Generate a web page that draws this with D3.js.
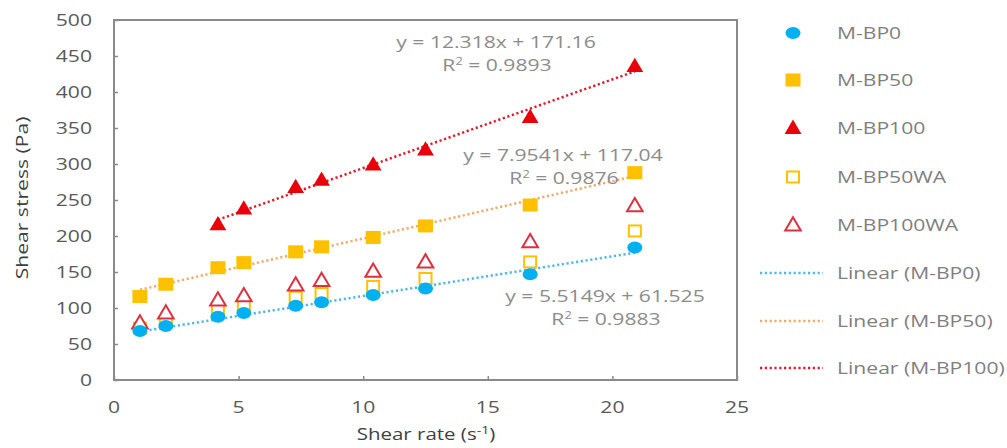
<!DOCTYPE html>
<html>
<head>
<meta charset="utf-8">
<script src="https://cdn.jsdelivr.net/npm/d3@7/dist/d3.min.js"></script>
<style>
  html, body { margin: 0; padding: 0; background: #fff; }
  svg { display: block; font-family: "Open Sans", "Noto Sans", sans-serif; }
</style>
</head>
<body>
<svg id="chart" width="1007" height="448"></svg>
<script>
// Shear rate (s^-1) at each measurement step
const shearRate = [1.04, 2.08, 4.17, 5.21, 7.29, 8.33, 10.4, 12.5, 16.7, 20.9];

// Shear stress (Pa) per mix
const mbp0     = [68, 75, 88, 93, 103, 108, 118, 127, 147, 184];
const mbp50    = [116, 133, 156, 163, 178, 185, 198, 214, 243, 288];
const mbp100   = [null, null, 216, 238, 268, 278, 299, 320, 365, 436];
const mbp50wa  = [72, 81, 97, 103, 115, 120, 130, 141, 164, 207];
const mbp100wa = [79, 93, 111, 117, 132, 138, 151, 164, 192, 242];

// Linear fits (slope, intercept, R²)
const fitNames = ["M-BP0", "M-BP50", "M-BP100"];
const fitSlope = [5.5149, 7.9541, 12.318];
const fitIntercept = [61.525, 117.04, 171.16];
const fitR2 = ["0.9883", "0.9876", "0.9893"];

const xTicks = [0, 5, 10, 15, 20, 25];
const yTicks = [0, 50, 100, 150, 200, 250, 300, 350, 400, 450, 500];

const svg = d3.select("#chart");
const plot = { left: 114, right: 737, top: 20, bottom: 380 };

const x = d3.scaleLinear().domain([0, 25]).range([plot.left, plot.right]);
const y = d3.scaleLinear().domain([0, 500]).range([plot.bottom, plot.top]);

const textGray = "#595959";
const labelGray = "#8c8c8c";
const WIDEN = 1.28;   // horizontal stretch applied to all text

// Text helper: places text at (px, py) with a wide horizontal aspect
function label(px, py, anchor, size, fill, rotate) {
  const rot = rotate ? ` rotate(${rotate})` : "";
  return svg.append("text")
    .attr("transform", `translate(${px},${py})${rot} scale(${WIDEN},1)`)
    .attr("dy", "0.35em")
    .attr("text-anchor", anchor)
    .attr("font-size", size)
    .attr("fill", fill);
}

// Plot area frame
svg.append("rect")
  .attr("x", plot.left).attr("y", plot.top)
  .attr("width", plot.right - plot.left).attr("height", plot.bottom - plot.top)
  .attr("fill", "none").attr("stroke", "#8a8a8a").attr("stroke-width", 2);

// Axes with short inward ticks
const yAxis = svg.append("g").attr("transform", `translate(${plot.left},0)`)
  .call(d3.axisRight(y).tickValues(yTicks).tickSize(4).tickFormat(""));
yAxis.select(".domain").remove();
yAxis.selectAll("line").attr("stroke", "#8a8a8a").attr("stroke-width", 1.5);

const xAxis = svg.append("g").attr("transform", `translate(0,${plot.bottom})`)
  .call(d3.axisTop(x).tickValues(xTicks).tickSize(4).tickFormat(""));
xAxis.select(".domain").remove();
xAxis.selectAll("line").attr("stroke", "#8a8a8a").attr("stroke-width", 1.5);

yTicks.forEach(d => label(92, y(d), "end", 16.5, textGray).text(d));
xTicks.forEach(d => label(x(d), 407, "middle", 16.5, textGray).text(d));

// Axis titles
label(22, 198, "middle", 16.5, "#404040", -90).text("Shear stress (Pa)");

const xt = label(426, 434, "middle", 16, "#404040");
xt.append("tspan").text("Shear rate (s");
xt.append("tspan").attr("font-size", 11).attr("dy", -6).text("-1");
xt.append("tspan").attr("dy", 6).text(")");

// Trendlines
const fitColors = ["#4fb8e6", "#f7a96a", "#e8182b"];
const fitSeries = [mbp0, mbp50, mbp100];
fitSeries.forEach((vals, i) => {
  const xs = shearRate.filter((r, j) => vals[j] != null);
  const x0 = d3.min(xs), x1 = d3.max(xs);
  svg.append("line")
    .attr("x1", x(x0)).attr("y1", y(fitSlope[i] * x0 + fitIntercept[i]))
    .attr("x2", x(x1)).attr("y2", y(fitSlope[i] * x1 + fitIntercept[i]))
    .attr("stroke", fitColors[i]).attr("stroke-width", 2.5)
    .attr("stroke-dasharray", "2.2,2.6");
});

// Marker shapes
const triPath = s => `M0,${-s * 0.6}L${s * 0.6},${s * 0.42}L${-s * 0.6},${s * 0.42}Z`;
function drawMarker(g, kind) {
  if (kind === "circle") {
    g.append("ellipse").attr("rx", 7.5).attr("ry", 6).attr("fill", "#00b0f0");
  } else if (kind === "square") {
    g.append("rect").attr("x", -7.5).attr("y", -6.5).attr("width", 15).attr("height", 13).attr("fill", "#ffc000");
  } else if (kind === "triangle") {
    g.append("path").attr("d", triPath(14)).attr("fill", "#e8000b");
  } else if (kind === "osquare") {
    g.append("rect").attr("x", -6).attr("y", -5.5).attr("width", 12).attr("height", 11)
      .attr("fill", "#fff").attr("stroke", "#ffc000").attr("stroke-width", 2);
  } else if (kind === "otriangle") {
    g.append("path").attr("d", triPath(13)).attr("fill", "#fff")
      .attr("stroke", "#e0303f").attr("stroke-width", 2);
  }
}

const series = [
  { name: "M-BP0", vals: mbp0, kind: "circle" },
  { name: "M-BP50", vals: mbp50, kind: "square" },
  { name: "M-BP100", vals: mbp100, kind: "triangle" },
  { name: "M-BP50WA", vals: mbp50wa, kind: "osquare" },
  { name: "M-BP100WA", vals: mbp100wa, kind: "otriangle" }
];

// Draw points: open markers first so filled ones sit above where they overlap
const drawOrder = [3, 4, 0, 1, 2];
drawOrder.forEach(k => {
  const s = series[k];
  shearRate.forEach((r, j) => {
    if (s.vals[j] == null) return;
    const g = svg.append("g").attr("transform", `translate(${x(r)},${y(s.vals[j])})`);
    drawMarker(g, s.kind);
  });
});

// Trendline equations
const eqPos = [[605, 296], [563, 155], [496, 42]];
fitNames.forEach((n, i) => {
  const [cx, cy] = eqPos[i];
  label(cx, cy, "middle", 16.5, labelGray)
    .text(`y = ${fitSlope[i]}x + ${fitIntercept[i]}`);
  const r = label(cx + 1, cy + 23, "middle", 16.5, labelGray);
  r.append("tspan").text("R");
  r.append("tspan").attr("font-size", 10).attr("dy", -6).text("2");
  r.append("tspan").attr("dy", 6).text(` = ${fitR2[i]}`);
});

// Legend
const legendY = [33, 80, 128, 177, 225, 273, 321, 368];
series.forEach((s, i) => {
  const g = svg.append("g").attr("transform", `translate(793,${legendY[i]})`);
  drawMarker(g, s.kind);
  label(837, legendY[i], "start", 16.5, "#7f7f7f").text(s.name);
});
fitNames.forEach((n, i) => {
  const yy = legendY[5 + i];
  svg.append("line").attr("x1", 760).attr("x2", 823).attr("y1", yy).attr("y2", yy)
    .attr("stroke", fitColors[i]).attr("stroke-width", 2.5).attr("stroke-dasharray", "2.2,2.6");
  label(837, yy, "start", 16.5, "#7f7f7f").text(`Linear (${n})`);
});
</script>
</body>
</html>
